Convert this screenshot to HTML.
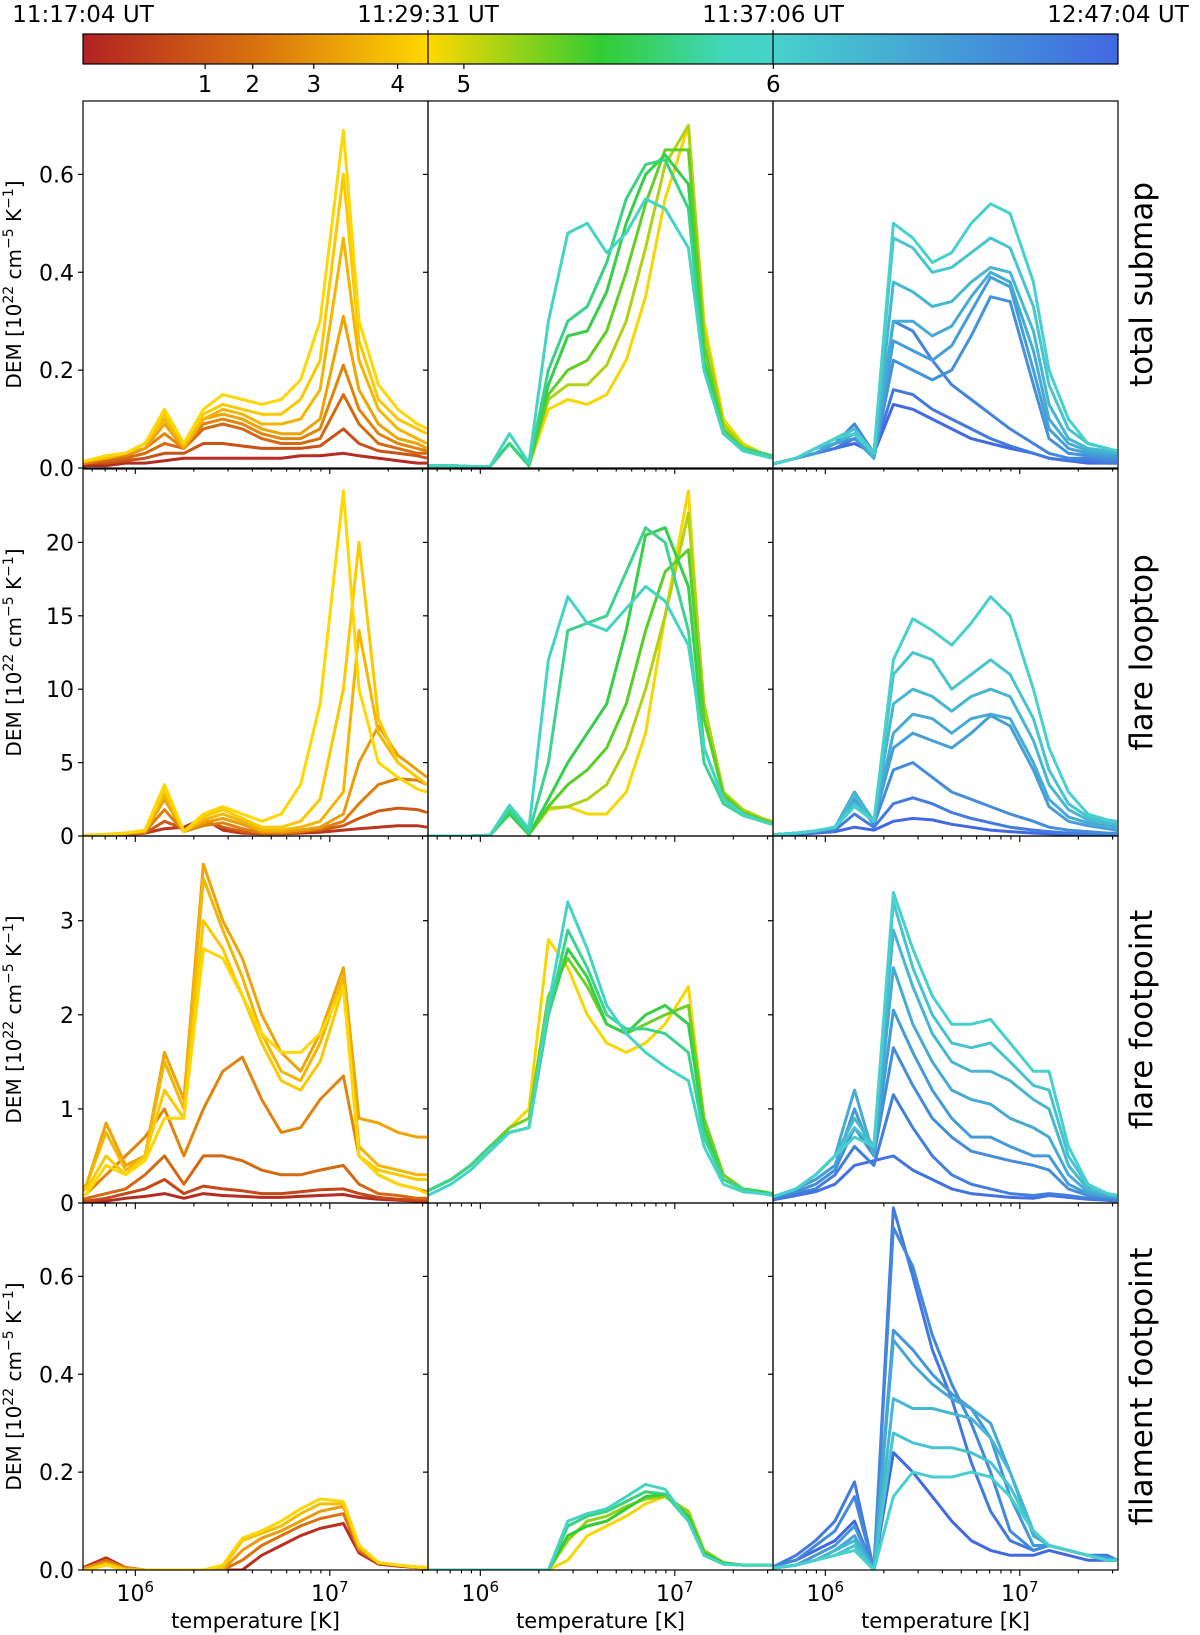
<!DOCTYPE html>
<html><head><meta charset="utf-8"><style>
html,body{margin:0;padding:0;background:#fff}
svg{display:block;font-family:"DejaVu Sans","Liberation Sans",sans-serif}
</style></head><body>
<svg id="fig" width="1200" height="1635" viewBox="0 0 1200 1635" xmlns="http://www.w3.org/2000/svg">
<defs>
<linearGradient id="cmap" x1="0" x2="1" y1="0" y2="0">
<stop offset="0" stop-color="#b22222"/><stop offset="0.17" stop-color="#d9730f"/><stop offset="0.333" stop-color="#ffd700"/>
<stop offset="0.5" stop-color="#32cd32"/><stop offset="0.62" stop-color="#42d6bd"/><stop offset="0.667" stop-color="#48d1cc"/><stop offset="1" stop-color="#4169e1"/>
</linearGradient>
</defs>
<g>
<rect x="83" y="34" width="1035" height="30" fill="url(#cmap)" stroke="#000" stroke-width="1.2"/>
<line x1="428" y1="30" x2="428" y2="64" stroke="#000" stroke-width="1.2"/>
<line x1="773" y1="30" x2="773" y2="64" stroke="#000" stroke-width="1.2"/>
<g font-size="23" text-anchor="middle">
<text x="83" y="22">11:17:04 UT</text><text x="428" y="22">11:29:31 UT</text><text x="773" y="22">11:37:06 UT</text><text x="1118" y="22">12:47:04 UT</text>
</g>
<g font-size="23" text-anchor="middle" id="cbticks"></g>
</g>
<g id="panels"></g>
</svg>
<script>
const G = [5.7,5.75,5.85,5.95,6.05,6.15,6.25,6.35,6.45,6.55,6.65,6.75,6.85,6.95,7.07,7.15,7.25,7.35,7.45,7.5];
const eventLabels = ["1","2","3","4","5","6"];
const eventPos = [0.118,0.164,0.223,0.304,0.368,0.667];
const rowTitles = ["total submap","flare looptop","flare footpoint","filament footpoint"];
const rowMax = [0.75,25,3.9,0.75];
const rowTicks = [[0,0.2,0.4,0.6],[0,5,10,15,20],[0,1,2,3],[0,0.2,0.4,0.6]];
const rowTickLabels = [["0.0","0.2","0.4","0.6"],["0","5","10","15","20"],["0","1","2","3"],["0.0","0.2","0.4","0.6"]];

const r1c1_t = [0.333,0.31,0.28,0.25,0.2,0.15,0.1,0.02];
const r1c1_v = [
[0.01,0.015,0.025,0.03,0.05,0.12,0.05,0.12,0.15,0.14,0.13,0.14,0.18,0.3,0.69,0.3,0.17,0.12,0.09,0.08],
[0.01,0.015,0.025,0.03,0.05,0.11,0.05,0.11,0.13,0.12,0.11,0.11,0.14,0.22,0.6,0.26,0.14,0.1,0.08,0.07],
[0.01,0.015,0.02,0.03,0.05,0.1,0.045,0.1,0.12,0.11,0.09,0.09,0.1,0.16,0.47,0.22,0.12,0.08,0.06,0.05],
[0.01,0.015,0.02,0.03,0.04,0.09,0.04,0.1,0.11,0.1,0.08,0.07,0.07,0.1,0.31,0.16,0.09,0.06,0.05,0.04],
[0.01,0.01,0.02,0.025,0.04,0.07,0.04,0.09,0.1,0.09,0.07,0.06,0.06,0.08,0.21,0.12,0.07,0.05,0.04,0.035],
[0.005,0.01,0.015,0.02,0.03,0.05,0.04,0.08,0.09,0.08,0.06,0.05,0.05,0.06,0.15,0.09,0.05,0.04,0.03,0.03],
[0.005,0.01,0.01,0.015,0.02,0.03,0.03,0.05,0.05,0.045,0.04,0.04,0.04,0.045,0.08,0.05,0.035,0.03,0.025,0.02],
[0,0.005,0.005,0.01,0.01,0.015,0.02,0.02,0.02,0.02,0.02,0.02,0.025,0.025,0.03,0.025,0.02,0.015,0.01,0.01]];
const r1c2_t = [0.34,0.4,0.46,0.52,0.57,0.64];
const r1c2_v = [
[0.005,0.005,0.005,0.003,0.003,0.05,0.005,0.12,0.14,0.13,0.15,0.22,0.35,0.55,0.7,0.3,0.1,0.05,0.03,0.025],
[0.005,0.005,0.005,0.003,0.003,0.05,0.005,0.14,0.17,0.17,0.21,0.3,0.45,0.62,0.7,0.28,0.09,0.045,0.03,0.025],
[0.005,0.005,0.005,0.003,0.003,0.05,0.005,0.15,0.2,0.22,0.28,0.4,0.54,0.65,0.65,0.25,0.08,0.04,0.03,0.025],
[0.005,0.005,0.005,0.003,0.003,0.05,0.005,0.17,0.27,0.28,0.36,0.5,0.6,0.64,0.58,0.22,0.07,0.04,0.03,0.025],
[0.005,0.005,0.005,0.003,0.003,0.05,0.005,0.2,0.3,0.33,0.42,0.55,0.62,0.63,0.53,0.2,0.07,0.04,0.03,0.025],
[0.005,0.005,0.005,0.003,0.003,0.07,0.01,0.3,0.48,0.5,0.44,0.48,0.55,0.53,0.45,0.2,0.07,0.035,0.025,0.02]];
const r1c3_t = [0.67,0.71,0.75,0.79,0.83,0.87,0.91,0.95,1.0];
const r1c3_v = [
[0.005,0.01,0.02,0.04,0.06,0.07,0.03,0.5,0.47,0.42,0.44,0.5,0.54,0.52,0.38,0.2,0.1,0.05,0.04,0.035],
[0.005,0.01,0.02,0.04,0.06,0.08,0.03,0.47,0.45,0.4,0.41,0.44,0.47,0.45,0.33,0.17,0.08,0.05,0.04,0.035],
[0.005,0.01,0.02,0.04,0.06,0.08,0.02,0.38,0.36,0.33,0.34,0.38,0.41,0.4,0.28,0.13,0.06,0.04,0.035,0.03],
[0.005,0.01,0.02,0.04,0.05,0.07,0.02,0.3,0.3,0.27,0.29,0.35,0.4,0.38,0.24,0.1,0.05,0.035,0.03,0.03],
[0.005,0.01,0.02,0.03,0.05,0.07,0.02,0.26,0.24,0.22,0.25,0.32,0.39,0.37,0.2,0.08,0.04,0.03,0.025,0.025],
[0.005,0.01,0.02,0.03,0.05,0.06,0.02,0.22,0.2,0.18,0.2,0.27,0.35,0.34,0.17,0.06,0.03,0.025,0.02,0.02],
[0.005,0.01,0.02,0.03,0.05,0.09,0.03,0.3,0.28,0.22,0.17,0.14,0.11,0.08,0.05,0.03,0.02,0.02,0.015,0.015],
[0.005,0.01,0.02,0.03,0.04,0.06,0.03,0.16,0.15,0.12,0.1,0.08,0.06,0.045,0.03,0.02,0.015,0.015,0.01,0.01],
[0.005,0.01,0.02,0.03,0.04,0.05,0.03,0.13,0.12,0.1,0.08,0.06,0.05,0.04,0.03,0.02,0.015,0.01,0.01,0.01]];

const r2c1_t = [0.333,0.31,0.28,0.24,0.19,0.12,0.04];
const r2c1_v = [
[0,0.05,0.1,0.2,0.4,3.5,0.3,1.5,2.0,1.5,1.0,1.5,3.5,9,23.5,10,5,4,3.2,3],
[0,0.05,0.1,0.2,0.4,3.2,0.3,1.3,1.8,1.2,0.6,0.6,1.0,2.5,10,20,8,5,4,3.5],
[0,0.05,0.1,0.2,0.3,2.8,0.3,1.1,1.5,1.0,0.4,0.4,0.6,1.0,3,14,7,5,4,3.5],
[0,0.05,0.1,0.2,0.3,2.5,0.3,0.9,1.2,0.8,0.3,0.3,0.4,0.6,1.5,5,7.5,5.5,4.5,4],
[0,0.03,0.08,0.15,0.3,1.8,0.3,0.7,0.9,0.5,0.2,0.2,0.3,0.5,1.0,2.2,3.5,3.9,3.8,3.5],
[0,0.03,0.05,0.1,0.2,1.0,0.5,1.0,0.6,0.3,0.2,0.2,0.3,0.4,0.7,1.2,1.7,1.9,1.8,1.6],
[0,0.02,0.05,0.1,0.2,0.5,0.6,1.2,0.4,0.2,0.15,0.15,0.2,0.25,0.4,0.5,0.6,0.7,0.7,0.6]];
const r2c2_t = [0.34,0.4,0.47,0.52,0.58,0.64];
const r2c2_v = [
[0,0,0,0,0.05,1.8,0.1,1.8,2,1.5,1.5,3,7,15,23.5,8,3,1.8,1.2,1],
[0,0,0,0,0.05,1.6,0.1,1.9,2,2.5,3.5,6,10,15,22,9,3,1.8,1.2,1],
[0,0,0,0,0.05,1.5,0.1,2,3.5,4.5,6,9,14,18,19.5,8,2.8,1.6,1.1,0.9],
[0,0,0,0,0.05,1.5,0.1,2.5,5,7,9,14,20.5,21,17,6,2.5,1.5,1,0.8],
[0,0,0,0,0.05,1.8,0.2,5,14,14.5,15,18,21,20,14,5,2.2,1.4,1,0.8],
[0,0,0,0,0.05,2.1,0.5,12,16.3,14.5,14,15.5,17,16,13,6,2.5,1.5,1,0.8]];
const r2c3_t = [0.67,0.71,0.75,0.79,0.83,0.88,0.94,1.0];
const r2c3_v = [
[0.05,0.1,0.2,0.35,0.6,2.0,1.0,12,14.8,14,13,14.5,16.3,15,10,6,3,1.5,1.1,1],
[0.05,0.1,0.2,0.35,0.6,2.2,1.0,11,12.5,12,10,11,12,11,8,4.5,2.2,1.3,1,0.9],
[0.05,0.1,0.2,0.35,0.6,2.8,1.0,9,10,9.5,8.5,9.5,10,9.5,6.5,3.5,1.8,1.1,0.9,0.8],
[0.05,0.1,0.2,0.35,0.6,3,1,7,8.3,8,7,8,8.3,8,5,2.5,1.3,0.9,0.7,0.6],
[0.05,0.1,0.2,0.35,0.6,2.5,1,6,7,6.5,6,7,8.2,7.5,4.5,2,1,0.7,0.5,0.4],
[0.05,0.1,0.2,0.3,0.5,2.5,0.8,4.5,5,4,3,2.5,2,1.5,1,0.6,0.4,0.3,0.2,0.2],
[0.05,0.1,0.15,0.25,0.4,1.5,0.6,2.2,2.6,2.2,1.6,1.2,0.9,0.6,0.4,0.3,0.2,0.15,0.1,0.1],
[0.03,0.05,0.1,0.2,0.3,0.6,0.4,1,1.2,1.1,0.8,0.6,0.4,0.3,0.2,0.15,0.1,0.05,0.05,0.05]];

const r3c1_t = [0.02,0.08,0.15,0.2,0.25,0.28,0.31,0.333];
const r3c1_v = [
[0,0.01,0.02,0.05,0.07,0.1,0.05,0.1,0.08,0.07,0.06,0.06,0.07,0.08,0.09,0.06,0.04,0.03,0.02,0.02],
[0.01,0.02,0.05,0.1,0.15,0.25,0.1,0.18,0.15,0.13,0.1,0.1,0.12,0.14,0.15,0.1,0.06,0.04,0.03,0.03],
[0.02,0.05,0.1,0.15,0.3,0.5,0.2,0.5,0.5,0.45,0.35,0.3,0.3,0.35,0.4,0.2,0.1,0.08,0.05,0.05],
[0.05,0.1,0.3,0.5,0.7,1.0,0.5,1.0,1.4,1.55,1.1,0.75,0.8,1.1,1.35,0.5,0.3,0.2,0.15,0.12],
[0.1,0.2,0.85,0.4,0.5,1.6,1.1,3.6,3.0,2.6,2.0,1.6,1.4,1.8,2.5,0.9,0.85,0.75,0.7,0.7],
[0.1,0.2,0.75,0.35,0.5,1.5,1.0,3.45,2.9,2.4,1.8,1.4,1.3,1.7,2.4,0.6,0.4,0.35,0.3,0.3],
[0.1,0.15,0.5,0.3,0.5,1.2,0.9,3.0,2.7,2.2,1.7,1.3,1.2,1.5,2.3,0.5,0.35,0.3,0.25,0.25],
[0.05,0.1,0.4,0.3,0.45,0.9,0.9,2.7,2.6,2.2,1.8,1.6,1.6,1.8,2.3,0.5,0.3,0.2,0.15,0.1]];
const r3c2_t = [0.34,0.45,0.52,0.58,0.65];
const r3c2_v = [
[0.1,0.15,0.25,0.4,0.6,0.8,1.0,2.8,2.5,2.0,1.7,1.6,1.7,1.9,2.3,0.9,0.3,0.15,0.12,0.1],
[0.1,0.15,0.25,0.4,0.6,0.8,0.9,2.2,2.6,2.3,1.9,1.8,1.9,2.0,2.1,0.9,0.3,0.15,0.12,0.1],
[0.1,0.15,0.25,0.4,0.6,0.75,0.8,2.0,2.7,2.4,1.9,1.8,2.0,2.1,1.9,0.8,0.25,0.15,0.12,0.1],
[0.1,0.15,0.25,0.4,0.6,0.75,0.8,2.0,2.9,2.5,2.0,1.85,1.85,1.8,1.6,0.7,0.25,0.15,0.1,0.1],
[0.05,0.1,0.2,0.35,0.55,0.75,0.8,2.1,3.2,2.7,2.1,1.8,1.6,1.45,1.3,0.6,0.2,0.12,0.1,0.08]];
const r3c3_t = [0.67,0.71,0.75,0.79,0.84,0.88,0.93,0.97];
const r3c3_v = [
[0.05,0.08,0.15,0.3,0.5,0.7,0.6,3.3,2.7,2.2,1.9,1.9,1.95,1.7,1.4,1.4,0.6,0.2,0.1,0.08],
[0.05,0.08,0.15,0.3,0.5,0.8,0.6,3.2,2.5,2.0,1.7,1.65,1.7,1.5,1.25,1.2,0.5,0.18,0.1,0.08],
[0.05,0.08,0.15,0.3,0.5,0.9,0.6,2.9,2.3,1.8,1.5,1.4,1.4,1.3,1.1,1.0,0.4,0.15,0.1,0.08],
[0.05,0.08,0.15,0.3,0.5,1.2,0.5,2.5,1.9,1.5,1.2,1.1,1.05,0.9,0.8,0.7,0.3,0.12,0.08,0.07],
[0.05,0.08,0.15,0.25,0.4,1.0,0.5,2.05,1.6,1.2,0.9,0.7,0.7,0.6,0.5,0.5,0.2,0.1,0.07,0.06],
[0.05,0.08,0.12,0.2,0.35,0.8,0.5,1.65,1.25,0.9,0.7,0.55,0.5,0.45,0.4,0.35,0.15,0.08,0.06,0.05],
[0.03,0.05,0.1,0.15,0.3,0.6,0.4,1.15,0.8,0.5,0.3,0.2,0.15,0.1,0.08,0.1,0.08,0.05,0.04,0.03],
[0.02,0.04,0.08,0.12,0.2,0.4,0.45,0.5,0.35,0.25,0.15,0.1,0.08,0.06,0.05,0.08,0.06,0.04,0.03,0.02]];

const r4c1_t = [0.03,0.17,0.24,0.29,0.333];
const r4c1_v = [
[0,0.008,0.025,0.005,0,0,0,0,0,0,0.03,0.05,0.07,0.085,0.095,0.035,0.012,0.008,0.005,0.004],
[0,0.005,0.02,0.005,0,0,0,0,0,0.02,0.05,0.07,0.09,0.105,0.115,0.04,0.015,0.01,0.006,0.005],
[0,0.005,0.015,0.003,0,0,0,0,0,0.04,0.065,0.08,0.1,0.12,0.13,0.045,0.015,0.01,0.006,0.005],
[0,0,0.012,0,0,0,0,0,0.005,0.06,0.075,0.09,0.115,0.135,0.135,0.05,0.015,0.01,0.006,0.005],
[0,0,0.01,0,0,0,0,0,0.01,0.065,0.08,0.1,0.125,0.145,0.14,0.05,0.015,0.01,0.006,0.005]];
const r4c2_t = [0.34,0.42,0.5,0.56,0.64];
const r4c2_v = [
[0,0,0,0,0,0,0,0,0.02,0.07,0.09,0.11,0.135,0.15,0.12,0.04,0.015,0.01,0.01,0.01],
[0,0,0,0,0,0,0,0,0.06,0.1,0.11,0.13,0.145,0.15,0.12,0.04,0.015,0.01,0.01,0.01],
[0,0,0,0,0,0,0,0,0.07,0.09,0.1,0.125,0.15,0.155,0.11,0.035,0.015,0.01,0.01,0.01],
[0,0,0,0,0,0,0,0,0.09,0.11,0.12,0.14,0.16,0.155,0.1,0.03,0.012,0.01,0.01,0.01],
[0,0,0,0,0,0,0,0,0.1,0.115,0.125,0.15,0.175,0.165,0.1,0.03,0.012,0.01,0.01,0.01]];
const r4c3_t = [0.67,0.71,0.75,0.8,0.85,0.9,0.95,1.0];
const r4c3_v = [
[0,0.005,0.01,0.02,0.03,0.04,0,0.15,0.2,0.19,0.19,0.2,0.19,0.15,0.08,0.05,0.04,0.03,0.02,0.02],
[0,0.005,0.01,0.02,0.03,0.05,0,0.28,0.26,0.25,0.25,0.24,0.22,0.17,0.08,0.05,0.04,0.03,0.02,0.02],
[0,0.005,0.01,0.02,0.04,0.06,0,0.35,0.33,0.33,0.32,0.31,0.27,0.2,0.08,0.05,0.04,0.03,0.02,0.02],
[0,0.005,0.01,0.02,0.04,0.07,0,0.47,0.42,0.38,0.35,0.33,0.3,0.2,0.07,0.05,0.04,0.03,0.02,0.02],
[0,0.005,0.01,0.03,0.05,0.09,0,0.49,0.45,0.4,0.36,0.33,0.27,0.15,0.05,0.05,0.04,0.03,0.025,0.02],
[0,0.01,0.02,0.05,0.08,0.15,0,0.7,0.62,0.48,0.38,0.3,0.2,0.08,0.04,0.05,0.04,0.03,0.02,0.02],
[0,0.01,0.03,0.06,0.1,0.18,0,0.74,0.6,0.45,0.35,0.22,0.12,0.06,0.04,0.05,0.04,0.03,0.03,0.02],
[0,0.01,0.02,0.04,0.06,0.1,0,0.24,0.2,0.15,0.1,0.06,0.04,0.03,0.03,0.04,0.03,0.02,0.02,0.02]];

const panelT = [[r1c1_t,r1c2_t,r1c3_t],[r2c1_t,r2c2_t,r2c3_t],[r3c1_t,r3c2_t,r3c3_t],[r4c1_t,r4c2_t,r4c3_t]];
const panelV = [[r1c1_v,r1c2_v,r1c3_v],[r2c1_v,r2c2_v,r2c3_v],[r3c1_v,r3c2_v,r3c3_v],[r4c1_v,r4c2_v,r4c3_v]];

const NS = "http://www.w3.org/2000/svg";
const colX = [83,428,773], colW = 345;
const rowY = [101,469,836,1203], rowH = 367;
const LMIN = 5.731, LMAX = 7.505;
const stops = [[0,[178,34,34]],[0.17,[217,115,15]],[0.333,[255,215,0]],[0.5,[50,205,50]],[0.62,[66,214,189]],[0.667,[72,209,204]],[1,[65,105,225]]];
function cmap(t){
  for(let i=0;i<stops.length-1;i++){
    const a=stops[i],b=stops[i+1];
    if(t<=b[0]){const f=(t-a[0])/(b[0]-a[0]);return "rgb("+a[1].map((c,k)=>Math.round(c+(b[1][k]-c)*f)).join(",")+")";}
  }
  return "rgb(65,105,225)";
}
function xs(c,l){return colX[c]+(l-LMIN)/(LMAX-LMIN)*colW;}
function ys(r,v){return rowY[r]+rowH-v/rowMax[r]*rowH;}
function mk(tag,attrs,parent){const e=document.createElementNS(NS,tag);for(const k in attrs)e.setAttribute(k,attrs[k]);parent.appendChild(e);return e;}

const cb = document.getElementById('cbticks');
eventLabels.forEach((lab,i)=>{
  const x = 83+eventPos[i]*1035;
  const tk = mk('line',{x1:x,y1:64,x2:x,y2:69,stroke:'#000','stroke-width':1.2},cb);
  
  
  const t = mk('text',{x:x,y:92},cb);
  t.textContent = lab;
  
  
});

const root = document.getElementById('panels');
for(let r=0;r<4;r++){
  for(let c=0;c<3;c++){
    const g = mk('g',{},root);
    
    
    const cid='clip'+r+c;
    const cp = mk('clipPath',{id:cid},g);
    mk('rect',{x:colX[c],y:rowY[r],width:colW,height:rowH},cp);
    const lg = mk('g',{'clip-path':'url(#'+cid+')'},g);
    const T = panelT[r][c], V = panelV[r][c];
    const idx = T.map((t,i)=>i).sort((a,b)=> c===2 ? T[b]-T[a] : T[a]-T[b]);
    idx.forEach(i=>{
      const d = V[i].map((v,k)=>(k?'L':'M')+xs(c,G[k]).toFixed(1)+','+ys(r,v).toFixed(1)).join('');
      const p = mk('path',{d:d,fill:'none',stroke:cmap(T[i]),'stroke-width':3,'stroke-linejoin':'round'},lg);
      
      
    });
    const fr = mk('rect',{x:colX[c],y:rowY[r],width:colW,height:rowH,fill:'none',stroke:'#000','stroke-width':1.2},g);
    
    
    rowTicks[r].forEach((v,k)=>{
      const y = ys(r,v);
      mk('line',{x1:colX[c]-5,y1:y,x2:colX[c],y2:y,stroke:'#000','stroke-width':1.2},g);
      if(c===0){
        const t = mk('text',{x:colX[c]-9,y:y+8,'text-anchor':'end','font-size':22},g);
        t.textContent = rowTickLabels[r][k];
        
        
      }
    });
    for(let e=5;e<=7;e++){
      for(let m=1;m<=9;m++){
        const l = e+Math.log10(m);
        if(l<LMIN||l>LMAX) continue;
        const x = xs(c,l);
        const len = m===1?6:3.5;
        mk('line',{x1:x,y1:rowY[r]+rowH,x2:x,y2:rowY[r]+rowH+len,stroke:'#000','stroke-width':1.1},g);
        if(m===1 && r===3){
          const t = mk('text',{x:x,y:rowY[r]+rowH+31,'text-anchor':'middle','font-size':22},g);
          
          
          t.textContent='10';
          const s = mk('tspan',{'font-size':15,dy:-9},t);
          s.textContent=String(e);
        }
      }
    }
    if(r===3){
      const xl = mk('text',{x:colX[c]+colW/2,y:1628,'text-anchor':'middle','font-size':21},g);
      xl.textContent='temperature [K]';
      
      
    }
  }
  const cy = rowY[r]+rowH/2;
  const yl = mk('text',{x:0,y:0,'text-anchor':'middle','font-size':20,transform:'translate(21,'+cy+') rotate(-90)'},root);
  
  
  const parts=[['DEM [10',0],['22',1],[' cm',0],['−5',1],[' K',0],['−1',1],[']',0]];
  let sup=false;
  parts.forEach(([s,isSup])=>{
    const ts = mk('tspan',{},yl);
    if(isSup && !sup){ts.setAttribute('dy',-8);ts.setAttribute('font-size',14);sup=true;}
    else if(isSup){ts.setAttribute('font-size',14);}
    else if(sup){ts.setAttribute('dy',8);sup=false;}
    ts.textContent=s;
  });
  const rt = mk('text',{x:0,y:0,'text-anchor':'middle','font-size':31,transform:'translate(1152,'+cy+') rotate(-90)'},root);
  rt.textContent = rowTitles[r];
  
  
}
</script>
</body></html>
